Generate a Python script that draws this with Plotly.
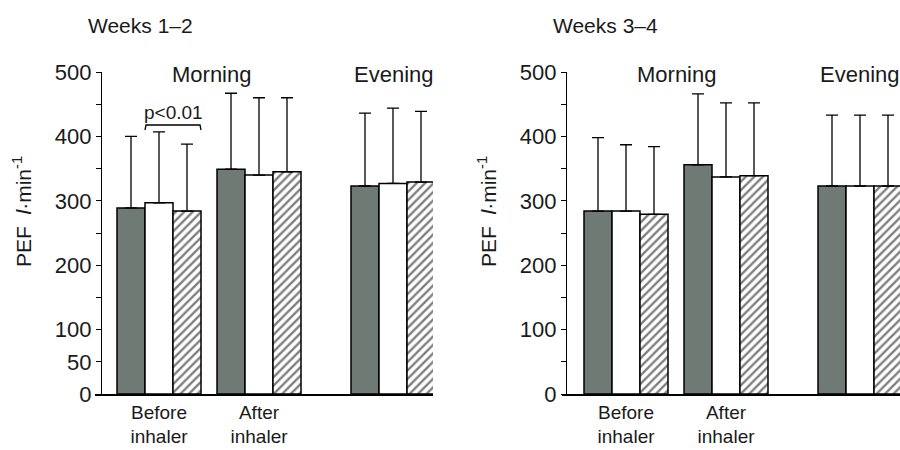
import plotly.graph_objects as go

# ---- data ----
groups = ["Before inhaler", "After inhaler", "Evening"]
series_names = ["Group A", "Group B", "Group C"]

wk12_means = {
    "Group A": [289, 349, 323],
    "Group B": [297, 340, 327],
    "Group C": [284, 345, 329],
}
wk12_upper = {
    "Group A": [400, 467, 436],
    "Group B": [407, 460, 444],
    "Group C": [388, 460, 439],
}
wk34_means = {
    "Group A": [284, 356, 323],
    "Group B": [284, 337, 323],
    "Group C": [279, 339, 323],
}
wk34_upper = {
    "Group A": [398, 466, 433],
    "Group B": [387, 452, 433],
    "Group C": [384, 452, 433],
}
xtick_labels = ["Before<br>inhaler", "After<br>inhaler"]
ytick_left = [0, 50, 100, 200, 300, 400, 500]
yminor_left = [150, 250, 350, 450]
ytick_right = [0, 100, 200, 300, 400, 500]
yminor_right = [50, 150, 250, 350, 450]

# ---- layout helpers (positions, not data) ----
group_x = [1.0, 2.0, 3.34]
offsets = [-0.42, -0.14, 0.14]
bar_w = 0.28
FONT = "Liberation Sans, Arial, sans-serif"
TXT = "#1a1a1a"
styles = [
    dict(color="#707a74", line=dict(color="black", width=1.5)),
    dict(color="white", line=dict(color="black", width=1.5)),
    dict(color="white", line=dict(color="black", width=1.5),
         pattern=dict(shape="/", fgcolor="black", bgcolor="white", size=6, solidity=0.4)),
]

fig = go.Figure()
for panel, (means, upper) in enumerate([(wk12_means, wk12_upper), (wk34_means, wk34_upper)]):
    xa = "x" if panel == 0 else "x2"
    ya = "y" if panel == 0 else "y2"
    for i, s in enumerate(series_names):
        err = [u - m for u, m in zip(upper[s], means[s])]
        fig.add_trace(go.Bar(
            x=group_x, y=means[s], width=bar_w, offset=offsets[i],
            marker=styles[i], xaxis=xa, yaxis=ya, showlegend=False,
            error_y=dict(type="data", array=err, arrayminus=[0] * len(err),
                         symmetric=False, color="black", thickness=1.3, width=6),
            name=s,
        ))

H = 450
W = 900
def px_y(p):
    return (H - p) / H

common_x = dict(range=[0.36, 3.74], showgrid=False, zeroline=False, showline=True,
                linecolor="black", linewidth=1.5, ticks="", tickvals=group_x[:2],
                ticktext=xtick_labels, automargin=False,
                tickfont=dict(family=FONT, size=19, color=TXT))
common_y = dict(range=[0, 500], showgrid=False, zeroline=False, showline=True,
                linecolor="black", linewidth=1.3, ticks="outside", ticklen=5,
                tickcolor="black", automargin=False,
                tickfont=dict(family=FONT, size=22, color=TXT),
                domain=[px_y(394), px_y(72)], anchor="free")

fig.update_layout(
    width=W, height=H,
    margin=dict(l=0, r=0, t=0, b=0),
    plot_bgcolor="white", paper_bgcolor="white",
    barmode="overlay",
    xaxis=dict(domain=[95 / W, 433 / W], anchor="y", **common_x),
    xaxis2=dict(domain=[562 / W, 900 / W], anchor="y2", **common_x),
    yaxis=dict(position=101 / W, tickvals=ytick_left,
               minor=dict(tickvals=yminor_left, ticks="outside", ticklen=5, tickcolor="black"),
               **common_y),
    yaxis2=dict(position=566 / W, tickvals=ytick_right,
                minor=dict(tickvals=yminor_right, ticks="outside", ticklen=5, tickcolor="black"),
                **common_y),
    font=dict(family=FONT, size=20, color=TXT),
)

def ann(text, x, y, size=21, angle=0):
    fig.add_annotation(text=text, x=x / W, y=px_y(y), xref="paper", yref="paper",
                       xanchor="center", yanchor="middle",
                       showarrow=False, textangle=angle,
                       font=dict(family=FONT, size=size, color=TXT))

ann("Weeks 1–2", 140, 25)
ann("Weeks 3–4", 605, 25)
ann("Morning", 211, 75, size=22)
ann("Evening", 394, 75, size=22)
ann("Morning", 676, 75, size=22)
ann("Evening", 860, 75, size=22)
ann("p<0.01", 173, 113, size=19)
ann("PEF  <i>l</i>·min<sup>-1</sup>", 22, 212, angle=-90)
ann("PEF  <i>l</i>·min<sup>-1</sup>", 487, 212, angle=-90)

# significance bracket
fig.add_shape(type="path", xref="paper", yref="paper",
              path=f"M {145/W},{px_y(130)} L {146/W},{px_y(125)} L {200/W},{px_y(125)} L {201/W},{px_y(130)}",
              line=dict(color="black", width=1.3))

fig.write_html("out.html", config={"displayModeBar": False},
               post_script="document.body.style.margin='0';document.body.style.padding='0';")
